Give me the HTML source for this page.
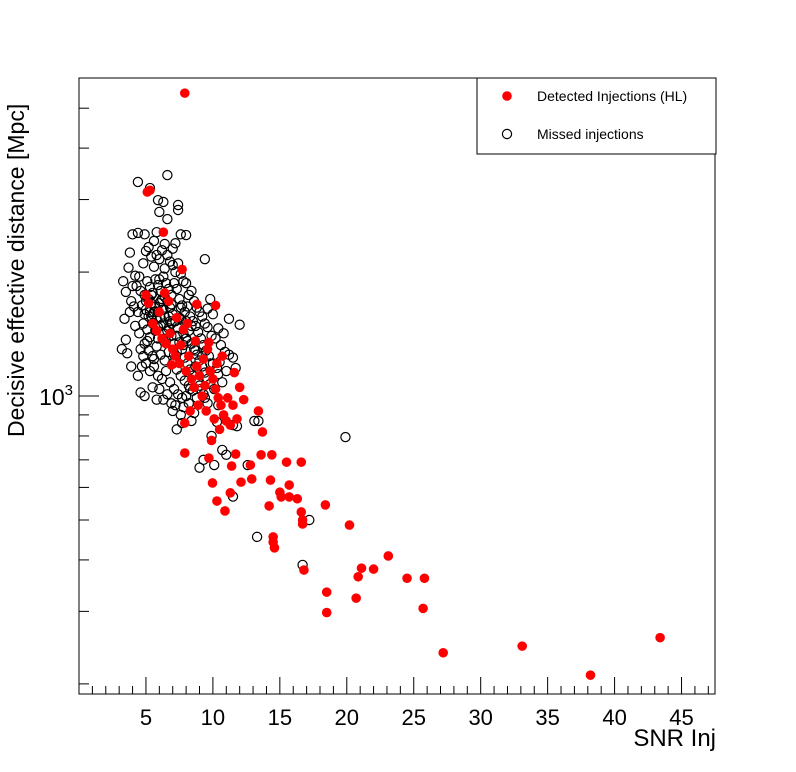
<!DOCTYPE html>
<html><head><meta charset="utf-8"><style>
html,body{margin:0;padding:0;background:#fff;}
svg{display:block;font-family:"Liberation Sans",sans-serif;}
</style></head><body>
<svg id="chart" width="796" height="772" viewBox="0 0 796 772" xmlns="http://www.w3.org/2000/svg">
<rect x="0" y="0" width="796" height="772" fill="#fff"/>
<g id="marks"></g>
<g id="axes"></g>
<rect x="79" y="78" width="636" height="616" fill="none" stroke="#000" stroke-width="1"/>
<text x="716" y="746" font-size="24" text-anchor="end">SNR Inj</text>
<text transform="translate(24,437) rotate(-90)" font-size="23" text-anchor="start">Decisive effective distance [Mpc]</text>
<g>
<rect x="477" y="78" width="239" height="76" fill="#fff" stroke="#000" stroke-width="1"/>
<circle cx="507" cy="96" r="4.8" fill="#ff0000"/>
<text x="537" y="101" font-size="14">Detected Injections (HL)</text>
<circle cx="507" cy="134" r="4.6" fill="none" stroke="#000" stroke-width="1.2"/>
<text x="537" y="139" font-size="14">Missed injections</text>
</g>
</svg>
<script>
const xTicks = [5,10,15,20,25,30,35,40,45];
const missedSnr = [4.4,5.3,6.6,6.3,5.9,7.4,7.4,6.6,6.0,7.6,8.0,4.0,4.4,4.9,3.8,9.4,9.8,12.0,11.2,19.9,13.4,13.1,11.5,10.7,12.6,11.5,13.3,17.2,16.7,9.0,9.3,10.3,3.2,3.6,3.9,3.3,3.5,3.7,4.2,4.0,3.9,3.4,3.8,3.5,4.6,4.9,5.8,6.6,7.2,7.8,8.2,7.0,7.6,8.6,9.4,9.0,8.3,9.9,10.4,11.8,11.0,10.1,7.3,
4.5,4.8,5.0,5.2,5.4,5.6,5.8,6.0,6.2,6.4,6.6,6.8,7.0,7.2,7.4,7.6,7.8,8.0,8.2,8.4,8.6,8.8,9.0,9.2,9.4,9.6,9.9,10.2,10.6,10.9,11.2,11.5,
4.3,4.6,4.9,5.1,5.3,5.5,5.7,5.9,6.1,6.3,6.5,6.7,6.9,7.1,7.3,7.5,7.7,7.9,8.1,8.3,8.5,8.7,8.9,9.1,9.3,9.5,9.7,10.0,10.3,
4.1,4.4,4.7,5.0,5.2,5.4,5.6,5.8,6.0,6.2,6.4,6.6,6.8,7.0,7.2,7.4,7.6,7.8,8.0,8.2,8.4,8.6,8.8,9.0,9.2,9.4,9.6,9.8,10.1,
4.2,4.5,4.8,5.1,5.3,5.5,5.7,5.9,6.1,6.3,6.5,6.7,6.9,7.1,7.3,7.5,7.7,7.9,8.1,8.3,8.5,8.7,8.9,9.1,9.3,
4.6,4.9,5.2,5.5,5.8,6.1,6.4,6.7,7.0,7.3,7.6,7.9,8.2,8.5,8.8,
5.0,5.3,5.6,5.9,6.2,6.5,6.8,7.1,7.4,7.7,8.0,
4.4,4.7,5.5,6.0,6.3,6.9,
5.0,5.2,5.4,6.2,6.4,6.0,5.6,5.8,6.4,7.0,7.2,6.7,6.9,5.7,5.9,6.1,6.3,5.3,4.9,7.6,8.0,8.4,9.6,10.0,10.4,10.8,10.5,11.0,10.7,9.6,8.4,7.7,11.7,
5.4,5.9,6.3,6.8,7.3,7.8,5.1,5.6,6.6,7.1,4.8,5.5,6.1,6.9,7.5,8.1,8.7,9.2,9.8,10.4];
const missedDist = [3310,3200,3440,2960,2990,2910,2830,2690,2800,2470,2460,2470,2490,2470,2230,2150,1720,1490,1540,795,870,870,850,740,680,570,455,500,389,670,700,865,1300,1270,1180,1900,1790,2050,1960,1850,1700,1540,1600,1370,1020,1000,980,1010,950,940,960,920,900,910,990,1060,1040,800,950,845,720,680,830,
1950,2100,2250,2300,2180,2060,2200,2150,2260,2040,2200,2120,2080,2000,2100,1980,1900,1880,1760,1800,1700,1640,1600,1560,1500,1470,1400,1380,1330,1280,1260,1240,
1850,1800,1760,1900,1840,1780,1920,1860,1800,1950,1880,1820,1760,1880,1820,1720,1660,1600,1650,1560,1520,1480,1430,1380,1330,1290,1250,1200,1170,
1650,1600,1660,1620,1560,1680,1600,1540,1680,1620,1560,1700,1640,1580,1520,1460,1540,1420,1380,1440,1340,1300,1260,1220,1180,1140,1100,1070,1040,
1480,1420,1500,1450,1390,1500,1440,1380,1480,1420,1360,1460,1400,1340,1280,1350,1300,1240,1200,1160,1120,1180,1080,1040,1010,
1300,1340,1290,1250,1320,1260,1220,1280,1200,1160,1120,1090,1060,1030,990,
1200,1150,1180,1120,1100,1150,1080,1040,1010,990,1000,
1120,1180,1050,1040,980,960,
1700,1720,1760,1720,1740,1920,2380,2500,2340,2280,2350,1560,1500,1650,1600,1550,1500,1600,1580,1640,1520,1480,1630,1580,1460,1420,1210,1150,1080,960,870,860,1170,
1560,1470,1620,1520,1400,1330,1360,1230,1440,1260,1250,1580,1700,1670,1550,1360,1290,1250,1200,1130];
const detSnr = [7.9,5.3,6.3,7.7,8.8,10.2,7.9,9.7,9.97,10.3,10.9,11.3,11.4,11.7,12.1,12.8,13.4,13.7,13.6,12.9,14.2,14.3,14.4,14.5,14.5,14.6,15.1,15.0,15.5,15.7,15.7,16.3,16.6,16.6,16.7,16.7,16.8,18.4,18.5,18.5,20.2,20.7,20.85,21.1,22.0,23.1,24.5,25.8,25.7,27.2,33.1,38.2,43.4,
5.1,5.0,5.2,5.5,5.8,6.0,6.2,6.5,6.8,7.0,7.2,7.5,7.8,8.0,8.2,8.4,8.6,8.8,9.0,9.2,9.4,9.6,9.8,10.0,10.2,10.4,10.6,10.8,11.0,11.3,11.6,11.1,9.3,8.7,8.1,7.6,7.3,6.7,8.9,9.5,10.1,10.5,9.9,7.9,8.3,6.4,6.9,10.7,11.5,12.3,12.0,11.8,9.7,10.3];
const detDist = [5440,3160,2500,2030,1670,1660,727,707,615,556,526,582,676,723,618,680,920,818,720,629,541,625,720,455,442,428,569,584,691,608,569,563,691,523,489,500,378,544,334,298,486,323,364,382,380,409,361,361,305,238,247,210,259,
3130,1760,1680,1500,1440,1600,1380,1340,1420,1300,1250,1200,1450,1150,1250,1100,1050,1180,1120,1000,1060,1300,1150,1100,1040,990,950,900,870,850,1140,990,1230,1360,1500,1330,1550,1700,950,920,880,830,780,860,920,1780,1190,1250,950,980,1050,880,1350,1200];

const L=79,R=715,T=78,B=694;
const xMin=0,xMax=47.5;
const logMin=Math.log10(189),logMax=Math.log10(5920);
function sx(v){return L+(v-xMin)/(xMax-xMin)*(R-L);}
function sy(v){return B-(Math.log10(v)-logMin)/(logMax-logMin)*(B-T);}
const NS="http://www.w3.org/2000/svg";
const marks=document.getElementById('marks');
const axes=document.getElementById('axes');
function mk(tag,attrs,parent){const e=document.createElementNS(NS,tag);for(const k in attrs)e.setAttribute(k,attrs[k]);parent.appendChild(e);return e;}

for(let i=0;i<missedSnr.length;i++){
  const c=mk('circle',{cx:sx(missedSnr[i]),cy:sy(missedDist[i]),r:4.6,fill:'none',stroke:'#000','stroke-width':1.2},marks);
  
  
}
for(let i=0;i<detSnr.length;i++){
  const c=mk('circle',{cx:sx(detSnr[i]),cy:sy(detDist[i]),r:4.8,fill:'#ff0000'},marks);
  
  
}
for(let v=1;v<=47;v++){
  const major=v%5===0;
  const t=mk('line',{x1:sx(v),x2:sx(v),y1:B,y2:B-(major?17:8),stroke:'#000','stroke-width':1},axes);
  
  
}
for(const v of xTicks){
  const t=mk('text',{x:sx(v),y:B+31,'font-size':22,'text-anchor':'middle'},axes);
  t.textContent=String(v);
  
  
}
const yMinor=[200,300,400,500,600,700,800,900,2000,3000,4000,5000];
for(const v of yMinor){
  const t=mk('line',{x1:L,x2:L+10,y1:sy(v),y2:sy(v),stroke:'#000','stroke-width':1},axes);
  
  
}
const ym=mk('line',{x1:L,x2:L+20,y1:sy(1000),y2:sy(1000),stroke:'#000','stroke-width':1},axes);


const yl=mk('text',{x:L-6,y:sy(1000)+9,'font-size':23,'text-anchor':'end'},axes);


yl.innerHTML='10<tspan dy="-10" font-size="15">3</tspan>';
</script>
</body></html>
